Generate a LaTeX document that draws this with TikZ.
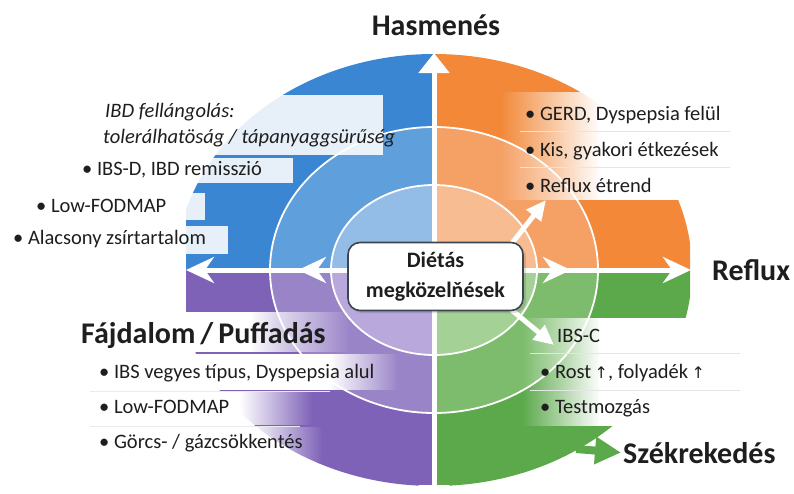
\documentclass[tikz,border=0pt]{standalone}
\usepackage{fontspec}
\setmainfont{Carlito}
\newfontfamily\symfont{DejaVu Sans}
\usetikzlibrary{arrows.meta,fadings}
\tikzfading[name=fadein, left color=transparent!100, right color=transparent!0]
\tikzfading[name=fadeout, left color=transparent!0, right color=transparent!100]
\definecolor{blueA}{HTML}{3A86D2}
\definecolor{blueB}{HTML}{5F9FDB}
\definecolor{blueC}{HTML}{93BDE6}
\definecolor{orA}{HTML}{F28838}
\definecolor{orB}{HTML}{F5A064}
\definecolor{orC}{HTML}{F8BC92}
\definecolor{puA}{HTML}{7E62B8}
\definecolor{puB}{HTML}{9A84C8}
\definecolor{puC}{HTML}{B8A8DC}
\definecolor{grA}{HTML}{5CA94C}
\definecolor{grB}{HTML}{7CBC6C}
\definecolor{grC}{HTML}{A4D196}
\definecolor{ink}{HTML}{1E1E1E}
\definecolor{boxline}{HTML}{3D4650}
\begin{document}
\begin{tikzpicture}[x=1pt,y=-1pt,
  ttl/.style={font=\bfseries\fontsize{30}{34}\selectfont, text=ink, inner sep=0pt},
  itm/.style={font=\fontsize{20.5}{24}\selectfont, text=ink, inner sep=0pt, anchor=base west},
  itmi/.style={font=\itshape\fontsize{20.5}{24}\selectfont, text=ink, inner sep=0pt, anchor=base west},
  ring/.style={draw=white, line width=1.8pt},
  axarrow/.style={draw=white, line width=5pt},
  hhead/.style={-{Stealth[width=26pt,length=28pt,inset=9pt]}},
  vhead/.style={-{Triangle[width=30pt,length=20pt]}},
  diag/.style={draw=white, line width=5pt, -{Triangle[width=18pt,length=20pt]}},
  tbox/.style={fill=white, fill opacity=0.88},
]
\useasboundingbox (0,0) rectangle (794,493);
\fill[white] (0,0) rectangle (794,493);
\coordinate (O) at (434,270);

% disc
\begin{scope}
\clip (186,0) rectangle (690,493);
\begin{scope}\clip (0,0) rectangle (434,270);
 \fill[blueA] (O) ellipse [x radius=258pt, y radius=216pt];
 \fill[blueB] (O) ellipse [x radius=164pt, y radius=143pt];
 \fill[blueC] (O) ellipse [x radius=103pt, y radius=85pt];
\end{scope}
\begin{scope}\clip (434,0) rectangle (794,270);
 \fill[orA] (O) ellipse [x radius=258pt, y radius=216pt];
 \fill[orB] (O) ellipse [x radius=164pt, y radius=143pt];
 \fill[orC] (O) ellipse [x radius=103pt, y radius=85pt];
\end{scope}
\begin{scope}\clip (0,270) rectangle (434,493);
 \fill[puA] (O) ellipse [x radius=258pt, y radius=216pt];
 \fill[puB] (O) ellipse [x radius=164pt, y radius=143pt];
 \fill[puC] (O) ellipse [x radius=103pt, y radius=85pt];
\end{scope}
\begin{scope}\clip (434,270) rectangle (794,493);
 \fill[grA] (O) ellipse [x radius=258pt, y radius=216pt];
 \fill[grB] (O) ellipse [x radius=164pt, y radius=143pt];
 \fill[grC] (O) ellipse [x radius=103pt, y radius=85pt];
\end{scope}
\draw[ring] (O) ellipse [x radius=164pt, y radius=143pt];
\draw[ring] (O) ellipse [x radius=103pt, y radius=85pt];
\end{scope}

% text backgrounds, top left
\fill[tbox] (95,95) rectangle (383,155);
\fill[tbox] (75,158) rectangle (293,183);
\fill[tbox] (30,193) rectangle (205,220);
\fill[tbox] (8,226) rectangle (228,254);
% top right
\fill[white, path fading=fadein] (500,92) rectangle (600,200);
\fill[white] (599,92) rectangle (794,200);
\draw[black!10, line width=0.6pt] (520,131) -- (730,131);
\draw[black!10, line width=0.6pt] (520,167) -- (730,167);
% bottom right
\fill[white, path fading=fadein] (522,318) rectangle (600,426);
\fill[white] (599,318) rectangle (794,426);
\draw[black!10, line width=0.6pt] (530,353) -- (740,353);
\draw[black!10, line width=0.6pt] (530,390) -- (740,390);
% bottom left
\fill[white] (60,312) rectangle (251,352);
\fill[white, path fading=fadeout] (250,312) rectangle (350,352);
\fill[white] (60,354) rectangle (331,390);
\fill[white, path fading=fadeout] (330,354) rectangle (398,390);
\fill[white] (60,392) rectangle (241,425);
\fill[white, path fading=fadeout] (240,392) rectangle (312,425);
\fill[white] (60,427) rectangle (251,462);
\fill[white, path fading=fadeout] (250,427) rectangle (322,462);
\draw[black!8, line width=0.6pt] (90,391) -- (330,391);
\draw[black!8, line width=0.6pt] (90,426) -- (300,426);

% axis arrows
\coordinate (tipN) at (434,53);
\coordinate (tipS) at (434,505);
\coordinate (tipW) at (186,270);
\coordinate (midW) at (298,270);
\coordinate (tipE) at (691,270);
\coordinate (midE) at (571,270);
\draw[axarrow, vhead] (O) -- (tipN);
\draw[axarrow, vhead] (O) -- (tipS);
\draw[axarrow, hhead] (O) -- (tipW);
\draw[axarrow, hhead] (O) -- (midW);
\draw[axarrow, hhead] (O) -- (tipE);
\draw[axarrow, hhead] (O) -- (midE);

% diagonal arrows
\coordinate (sNE) at (505,252);
\coordinate (tNE) at (546,200);
\coordinate (sSE) at (502,302);
\coordinate (tSE) at (554,345);
\draw[diag] (sNE) -- (tNE);
\draw[diag] (sSE) -- (tSE);

% centre box
\fill[black, opacity=0.12, rounded corners=12pt] (350,245) rectangle (526,313);
\node[draw=boxline, line width=1.6pt, fill=white, rounded corners=12pt,
      minimum width=175pt, minimum height=68pt, align=center, inner sep=0pt,
      font=\bfseries\fontsize{22}{30}\selectfont, text=ink] (box) at (435.5,276.5)
      {Diétás\\megközelňések};

% titles
\node[ttl, anchor=base] (has) at (436,35) {Hasmenés};
\node[ttl, anchor=base west] (ref) at (712,280) {Reflux};
\node[ttl, anchor=base west] (faj) at (81,343) {Fájdalom\,/\,Puffadás};
\node[ttl, anchor=base west] (szek) at (623,463) {Székrekedés};

% green arrow
\coordinate (gs) at (576,449);
\draw[grA, line width=8pt, -{Triangle[width=26pt,length=26pt]}] (gs) -- ([xshift=-2pt]szek.west);

% top-left items
\node[itmi] (tl1) at (105,117) {IBD fellángolás:};
\node[itmi] (tl2) at (103,143) {tolerálhatöság / tápanyaggsürűség};
\node[itm] (tl3) at (82,175) {• IBS-D, IBD remisszió};
\node[itm] (tl4) at (36,212) {• Low-FODMAP};
\node[itm] (tl5) at (13,244) {• Alacsony zsírtartalom};
% top-right items
\node[itm] (tr1) at (525,120) {• GERD, Dyspepsia felül};
\node[itm] (tr2) at (525,156) {• Kis, gyakori étkezések};
\node[itm] (tr3) at (525,192) {• Reflux étrend};
% bottom-left items
\node[itm] (bl1) at (99,378) {• IBS vegyes típus, Dyspepsia alul};
\node[itm] (bl2) at (99,413) {• Low-FODMAP};
\node[itm] (bl3) at (99,448) {• Görcs- / gázcsökkentés};
% bottom-right items
\node[itm] (br1) at (557,342) {IBS-C};
\node[itm] (br2) at (540,378) {• Rost\,{\symfont\fontsize{16}{20}\selectfont ↑}, folyadék\,{\symfont\fontsize{16}{20}\selectfont ↑}};
\node[itm] (br3) at (540,413) {• Testmozgás};
\end{tikzpicture}
\end{document}
